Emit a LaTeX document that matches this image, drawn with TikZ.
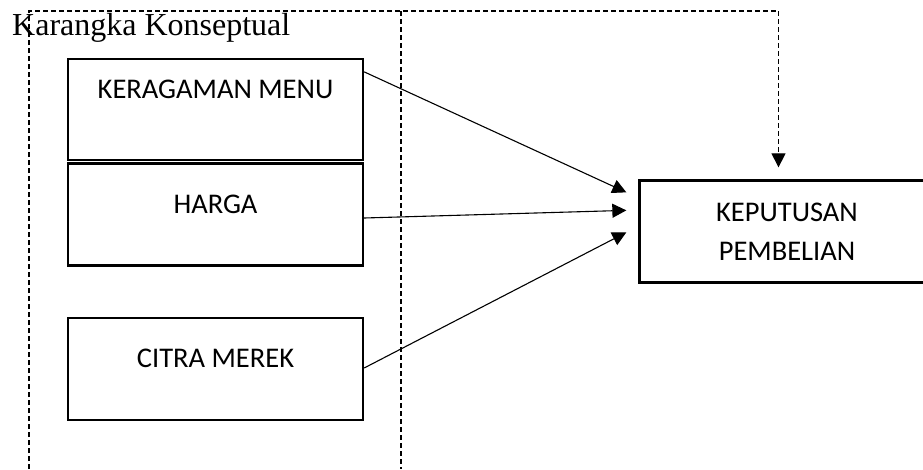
\documentclass[tikz,border=0pt]{standalone}
\usepackage{fontspec}
\setmainfont{Liberation Serif}
\newfontfamily\boxfont{Carlito}
\usetikzlibrary{arrows.meta,calc}

\begin{document}
\begin{tikzpicture}[x=1pt,y=-1pt,
  boxbase/.style={draw, line width=2.3pt, minimum width=295pt, minimum height=102pt,
    inner sep=0pt, align=center,
    font=\boxfont\fontsize{28.5}{39}\selectfont},
  varbox/.style={boxbase, text height=18.4pt},
  link/.style={line width=1.1pt, -{Triangle[length=14pt,width=14pt]}},
  frame/.style={line width=1.2pt, dash pattern=on 5pt off 3pt}]
  \useasboundingbox (0,0) rectangle (923,469);

  % independent variables
  \node[varbox, minimum height=101pt, text depth=41.4pt] (menu) at (215.5,109.5) {KERAGAMAN MENU};
  \node[varbox, text depth=21.4pt] (harga) at (215.5,214.5) {HARGA};
  \node[varbox, text depth=22.4pt] (citra) at (215.5,369)   {CITRA MEREK};

  % dependent variable
  \node[boxbase] (dec) at (787,231.5) {KEPUTUSAN\\PEMBELIAN};

  % dashed frame and divider
  \coordinate (fbl) at (29,469);
  \coordinate (ftl) at (29,11);
  \coordinate (ftr) at (778.5,11);
  \coordinate (dbot) at (401,469);
  \coordinate (dtop) at (401,11);
  \coordinate (dtip) at ($(dec.north)+(-8.5,-12)$);
  \draw[frame] (fbl) -- (ftl) -- (ftr);
  \draw[frame] (dtop) -- (dbot);
  \draw[frame, -{Triangle[length=14pt,width=14pt]}] (ftr) -- (dtip);

  % influences
  \draw[link] ($(menu.north east)+(0,14)$)  -- ($(dec.north west)+(-12,13)$);
  \draw[link] ($(harga.east)+(0,3.5)$)      -- ($(dec.north west)+(-12,31)$);
  \draw[link] ($(citra.east)+(0,-1)$)       -- ($(dec.north west)+(-12,53)$);

  % title
  \node[anchor=base west, inner sep=0pt, font=\fontsize{32}{38}\selectfont]
    (title) at (12,35) {Karangka Konseptual};
\end{tikzpicture}
\end{document}
